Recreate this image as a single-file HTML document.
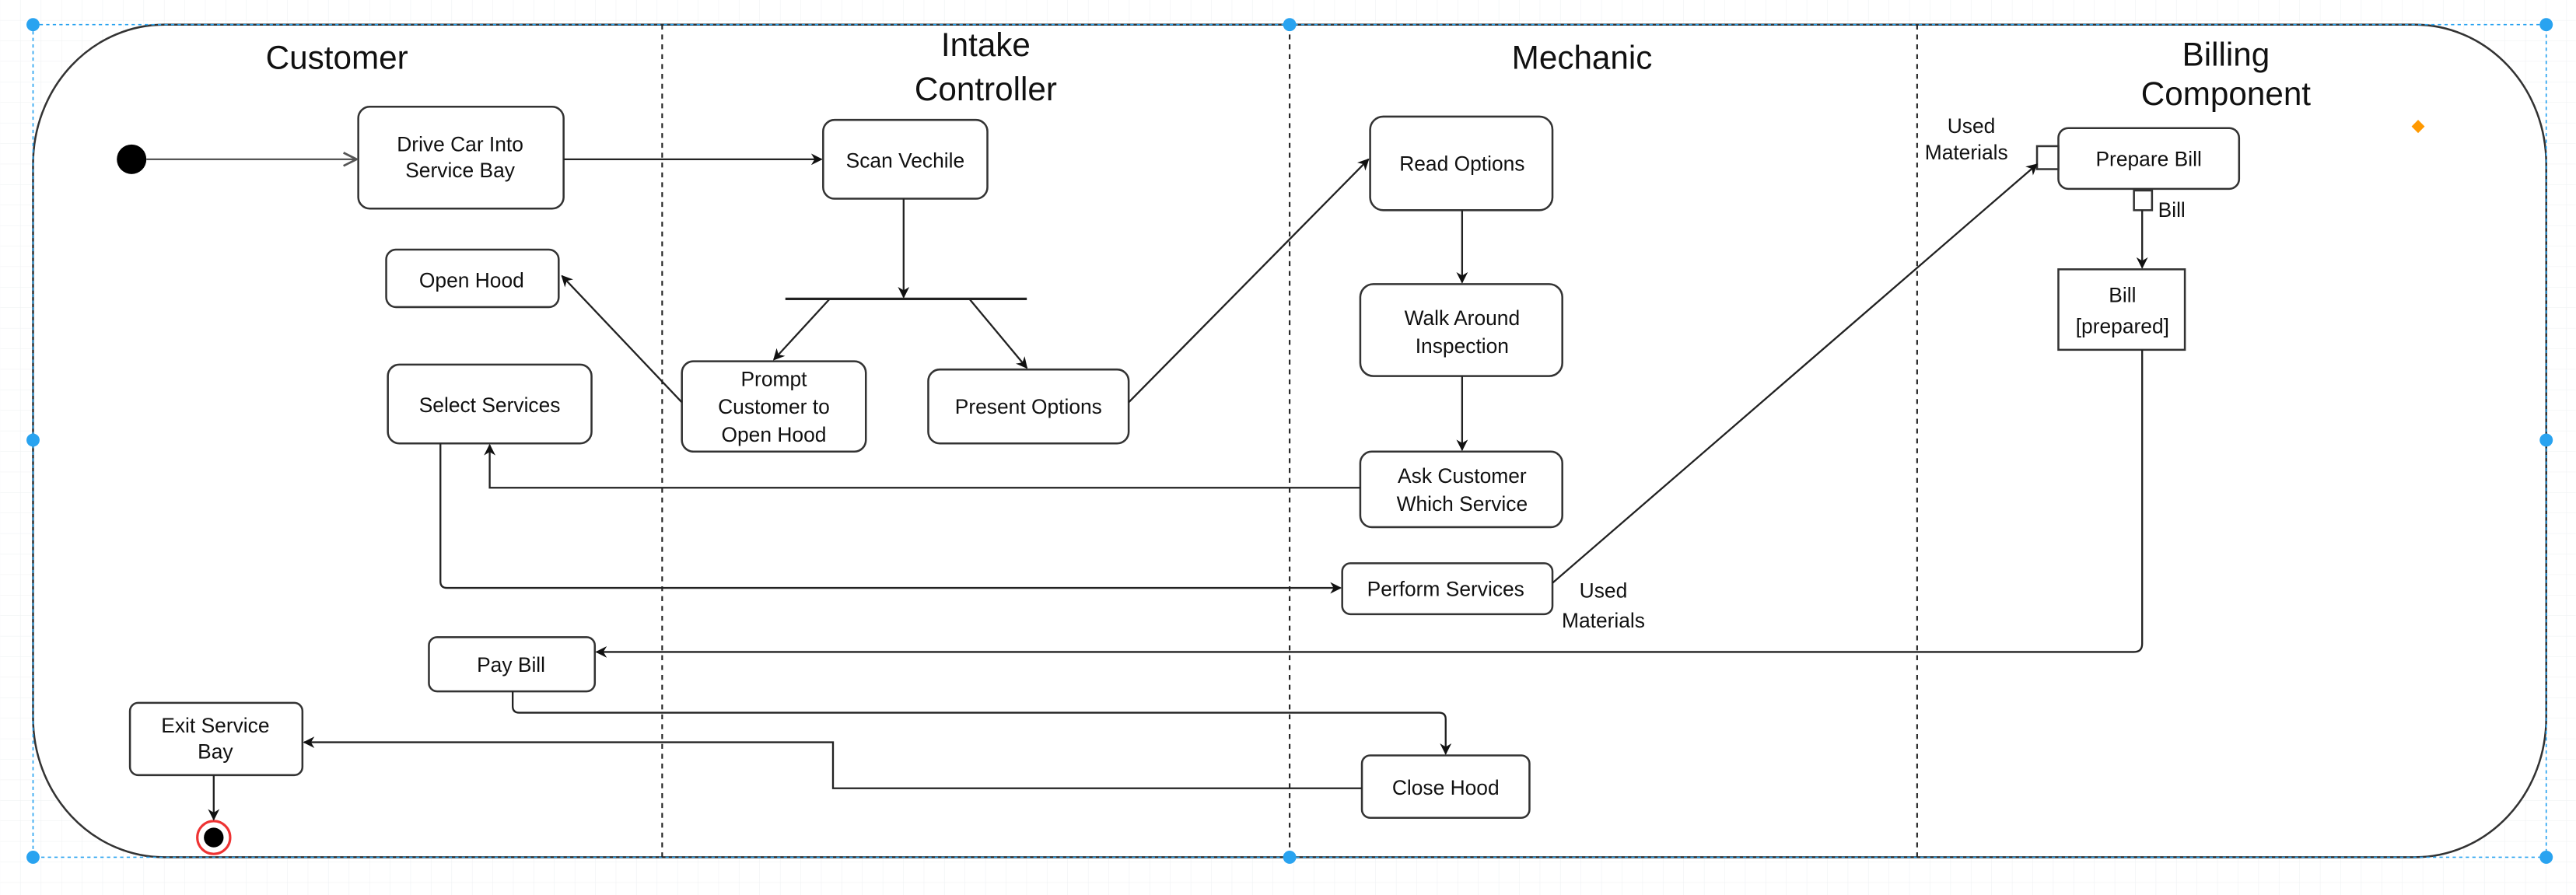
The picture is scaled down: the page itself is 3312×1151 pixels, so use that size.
<!DOCTYPE html>
<html><head><meta charset="utf-8">
<style>
html,body{margin:0;padding:0;background:#fff;}
svg{display:block;}
text{font-family:"Liberation Sans",Arial,sans-serif;fill:#111;}
</style></head>
<body>
<svg width="3312" height="1151" viewBox="0 0 1568 545" xmlns="http://www.w3.org/2000/svg">
<defs>
<pattern id="g" width="12.5" height="12.5" patternUnits="userSpaceOnUse">
<path d="M12.5 0V12.5H0" fill="none" stroke="#eef0f2" stroke-width="0.5"/>
</pattern>
<marker id="a" viewBox="0 0 10 10" refX="9" refY="5" markerWidth="7" markerHeight="7" orient="auto" markerUnits="userSpaceOnUse">
<path d="M0 0L10 5L0 10L3 5Z" fill="#111"/>
</marker>
<marker id="o" viewBox="0 0 10 10" refX="9" refY="5" markerWidth="10" markerHeight="10" orient="auto" markerUnits="userSpaceOnUse">
<path d="M1 1L9 5L1 9" fill="none" stroke="#555" stroke-width="1.3"/>
</marker>
</defs>
<rect width="1568" height="545" fill="#fff"/>
<rect width="1568" height="545" fill="url(#g)"/>

<rect x="20" y="15" width="1530" height="507" rx="80" ry="85" fill="#fff" stroke="#333" stroke-width="1.2"/>
<rect x="20" y="15" width="1530" height="507" fill="none" stroke="#29a3f0" stroke-width="0.8" stroke-dasharray="2,2"/>
<g stroke="#222" stroke-width="1" stroke-dasharray="3,3">
<line x1="403" y1="15" x2="403" y2="522"/>
<line x1="785" y1="15" x2="785" y2="522"/>
<line x1="1167" y1="15" x2="1167" y2="522"/>
</g>
<g fill="#29a3f0">
<circle cx="20" cy="15" r="4"/><circle cx="785" cy="15" r="4"/><circle cx="1550" cy="15" r="4"/>
<circle cx="20" cy="268" r="4"/><circle cx="1550" cy="268" r="4"/>
<circle cx="20" cy="522" r="4"/><circle cx="785" cy="522" r="4"/><circle cx="1550" cy="522" r="4"/>
</g>
<path d="M1472 73L1476 77L1472 81L1468 77Z" fill="#f90"/>

<g font-size="20" text-anchor="middle">
<text x="205" y="42">Customer</text>
<text x="600" y="34">Intake</text>
<text x="600" y="61">Controller</text>
<text x="963" y="42">Mechanic</text>
<text x="1355" y="40">Billing</text>
<text x="1355" y="64">Component</text>
</g>

<g fill="#fff" stroke="#333" stroke-width="1.2">
<rect x="218" y="65" width="125" height="62" rx="7"/>
<rect x="501" y="73" width="100" height="48" rx="7"/>
<rect x="235" y="152" width="105" height="35" rx="6"/>
<rect x="415" y="220" width="112" height="55" rx="7"/>
<rect x="565" y="225" width="122" height="45" rx="7"/>
<rect x="236" y="222" width="124" height="48" rx="7"/>
<rect x="834" y="71" width="111" height="57" rx="8"/>
<rect x="828" y="173" width="123" height="56" rx="8"/>
<rect x="828" y="275" width="123" height="46" rx="7"/>
<rect x="817" y="343" width="128" height="31" rx="5"/>
<rect x="1253" y="78" width="110" height="37" rx="6"/>
<rect x="1240" y="89" width="13" height="14"/>
<rect x="1299" y="116" width="11" height="12"/>
<rect x="1253" y="164" width="77" height="49"/>
<rect x="261" y="388" width="101" height="33" rx="5"/>
<rect x="79" y="428" width="105" height="44" rx="5"/>
<rect x="829" y="460" width="102" height="38" rx="5"/>
</g>
<circle cx="80" cy="97" r="9" fill="#000"/>
<circle cx="130" cy="510" r="10" fill="#fff" stroke="#e33" stroke-width="1.5"/>
<circle cx="130" cy="510" r="6" fill="#000"/>
<line x1="478" y1="182" x2="625" y2="182" stroke="#222" stroke-width="1.5"/>

<g font-size="12.5" text-anchor="middle">
<text x="280" y="92">Drive Car Into</text>
<text x="280" y="108">Service Bay</text>
<text x="551" y="102">Scan Vechile</text>
<text x="287" y="175">Open Hood</text>
<text x="471" y="235">Prompt</text>
<text x="471" y="252">Customer to</text>
<text x="471" y="269">Open Hood</text>
<text x="626" y="252">Present Options</text>
<text x="298" y="251">Select Services</text>
<text x="890" y="104">Read Options</text>
<text x="890" y="198">Walk Around</text>
<text x="890" y="215">Inspection</text>
<text x="890" y="294">Ask Customer</text>
<text x="890" y="311">Which Service</text>
<text x="880" y="363">Perform Services</text>
<text x="1308" y="101">Prepare Bill</text>
<text x="1292" y="184">Bill</text>
<text x="1292" y="203">[prepared]</text>
<text x="311" y="409">Pay Bill</text>
<text x="131" y="446">Exit Service</text>
<text x="131" y="462">Bay</text>
<text x="880" y="484">Close Hood</text>
<text x="1200" y="81">Used</text>
<text x="1197" y="97">Materials</text>
<text x="1322" y="132">Bill</text>
<text x="976" y="364">Used</text>
<text x="976" y="382">Materials</text>
</g>

<g fill="none" stroke="#222" stroke-width="1.1">
<line x1="89" y1="97" x2="217" y2="97" marker-end="url(#o)" stroke="#555"/>
<line x1="343" y1="97" x2="500" y2="97" marker-end="url(#a)"/>
<line x1="550" y1="121" x2="550" y2="181" marker-end="url(#a)"/>
<line x1="505" y1="182" x2="471" y2="219" marker-end="url(#a)"/>
<line x1="590" y1="182" x2="625" y2="224" marker-end="url(#a)"/>
<line x1="415" y1="245" x2="342" y2="168" marker-end="url(#a)"/>
<line x1="687" y1="245" x2="833" y2="97" marker-end="url(#a)"/>
<line x1="890" y1="128" x2="890" y2="172" marker-end="url(#a)"/>
<line x1="890" y1="229" x2="890" y2="274" marker-end="url(#a)"/>
<path d="M828 297H298V271" marker-end="url(#a)"/>
<path d="M268 270V354Q268 358 272 358H816" marker-end="url(#a)"/>
<line x1="945" y1="355" x2="1240" y2="100" marker-end="url(#a)"/>
<line x1="1304" y1="128" x2="1304" y2="163" marker-end="url(#a)"/>
<path d="M1304 213V392Q1304 397 1299 397H363" marker-end="url(#a)"/>
<path d="M312 421V430Q312 434 316 434H876Q880 434 880 438V459" marker-end="url(#a)"/>
<path d="M829 480H507V452H185" marker-end="url(#a)"/>
<line x1="130" y1="472" x2="130" y2="499" marker-end="url(#a)"/>
</g>
</svg>
</body></html>
